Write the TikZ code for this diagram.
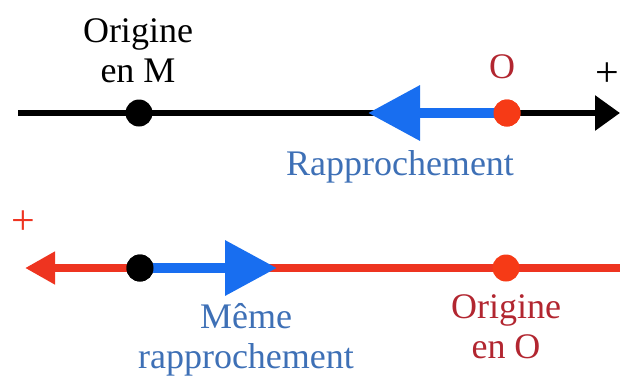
\documentclass[tikz,border=0pt]{standalone}
\usepackage{fontspec}
\setmainfont{Liberation Serif}
\usepackage{xcolor}
\usepackage{tikz}
\usetikzlibrary{arrows.meta}
\definecolor{axisred}{RGB}{238,52,32}
\definecolor{movblue}{RGB}{24,110,240}
\definecolor{txtblue}{RGB}{62,112,182}
\definecolor{txtred}{RGB}{178,38,48}
\definecolor{dotred}{RGB}{246,58,22}

\begin{document}
\begin{tikzpicture}[
    x=0.5pt, y=-0.5pt,
    lbl/.style={font=\rmfamily\fontsize{18}{20}\selectfont, align=center, anchor=base, inner sep=0pt},
    sgn/.style={font=\rmfamily\fontsize{21}{22}\selectfont, anchor=center, inner sep=0pt},
    pt/.style={circle, inner sep=0pt, minimum size=13.5pt},
    blackaxis/.style={line width=3pt, black, -{Triangle[length=12.5pt, width=17pt]}},
    redaxis/.style={line width=4pt, axisred, -{Triangle[length=15pt, width=15.5pt]}},
    mov/.style={line width=5pt, movblue, -{Triangle[length=26pt, width=26.5pt]}}
  ]
    \useasboundingbox (0,0) rectangle (620,376);

    % upper axis, origin in M
    \coordinate (topL) at (18,113);
    \coordinate (topR) at (620,113);
    \coordinate (topTip) at (368,113);
    \draw[blackaxis] (topL) -- (topR);
    \node[pt, fill=black]   (M1) at (139,113) {};
    \node[pt, fill=dotred]  (O1) at (507,113) {};
    \draw[mov] (O1.center) -- (topTip);
    \node[pt, fill=dotred]  at (O1) {};

    \node[lbl]              (lblM)  at (138,82)  {Origine\\en M};
    \node[lbl, txtred]      (lblO1) at (502,78)  {O};
    \node[sgn]              (plus1) at (607,75)  {+};
    \node[lbl, txtblue]     (lblR)  at (400,175) {Rapprochement};

    % lower axis, origin in O
    \coordinate (botR) at (620,268);
    \coordinate (botL) at (25,268);
    \coordinate (botTip) at (277,268);
    \draw[redaxis] (botR) -- (botL);
    \node[pt, fill=dotred]  (O2) at (506,268) {};
    \node[pt, fill=black]   (M2) at (140,268) {};
    \draw[mov] (M2.center) -- (botTip);
    \node[pt, fill=black]   at (M2) {};

    \node[sgn, axisred]     (plus2) at (23,223)  {+};
    \node[lbl, txtblue]     (lblMeme) at (246,368) {Même\\rapprochement};
    \node[lbl, txtred]      (lblO2) at (506,358) {Origine\\en O};
\end{tikzpicture}
\end{document}
